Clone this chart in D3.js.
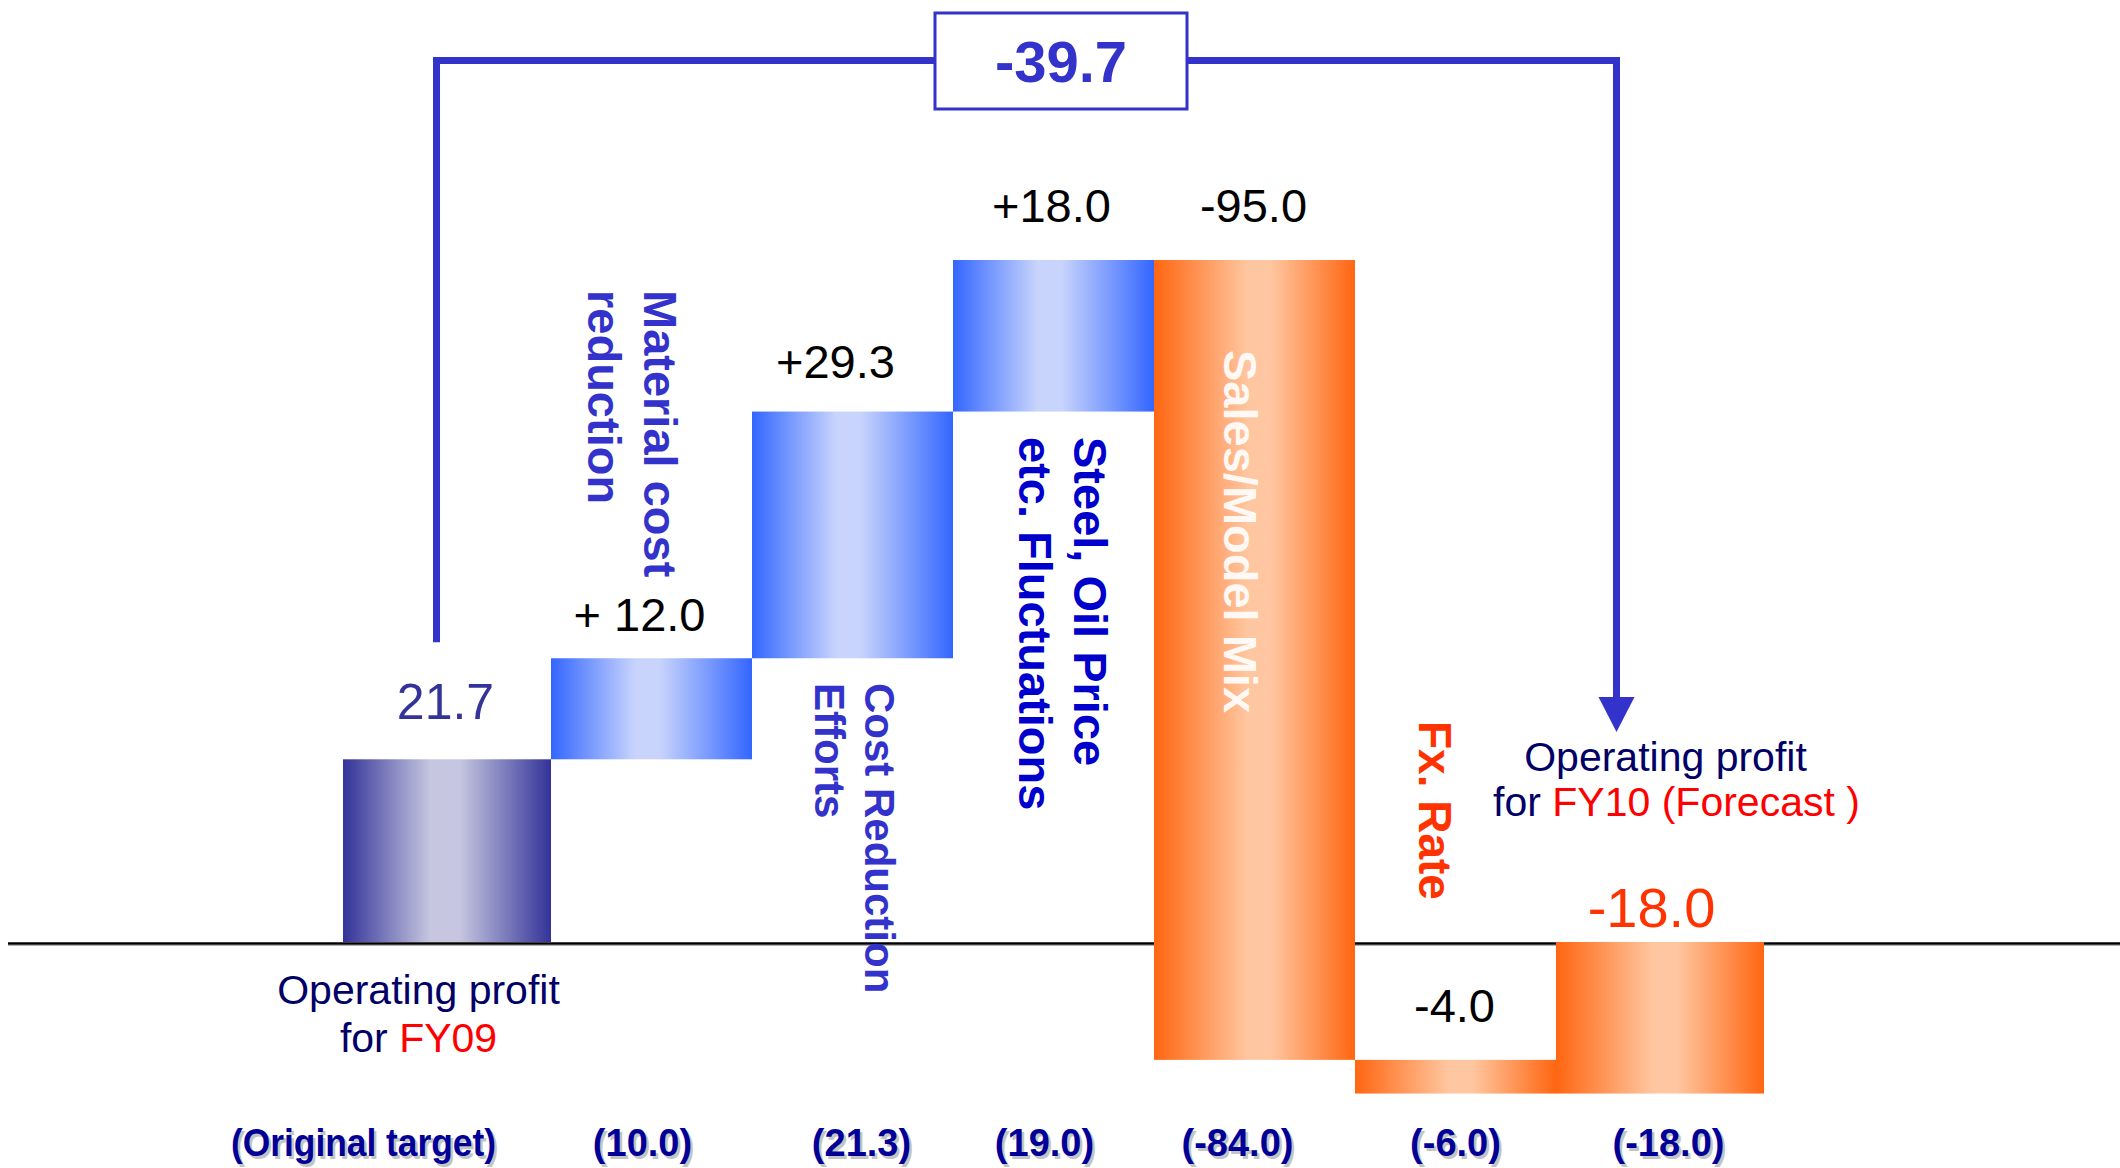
<!DOCTYPE html>
<html>
<head>
<meta charset="utf-8">
<script src="https://cdn.jsdelivr.net/npm/d3@7"></script>
<style>
  html, body { margin: 0; padding: 0; background: #ffffff; }
  svg { display: block; }
  text { font-family: "Liberation Sans", Arial, Helvetica, sans-serif; }
</style>
</head>
<body>
<svg id="chart" width="2120" height="1168"></svg>
<script>
// ---- data ---------------------------------------------------------------
const steps = ["FY09", "Material", "CostReduction", "SteelOil", "SalesMix", "FxRate", "FY10"];
const stepKinds = ["start", "gain", "gain", "gain", "loss", "loss", "end"];
const stepValues = [21.7, 12.0, 29.3, 18.0, -95.0, -4.0, -18.0];
const valueLabels = ["21.7", "+ 12.0", "+29.3", "+18.0", "-95.0", "-4.0", "-18.0"];
const targetLabels = ["(Original target)", "(10.0)", "(21.3)", "(19.0)", "(-84.0)", "(-6.0)", "(-18.0)"];
const factorNames = [
  null,
  ["Material cost", "reduction"],
  ["Cost Reduction", "Efforts"],
  ["Steel, Oil Price", "etc. Fluctuations"],
  ["Sales/Model Mix"],
  ["Fx. Rate"],
  null
];
const totalChange = "-39.7";

// ---- running totals -----------------------------------------------------
let running = 0;
const bars = steps.map((s, i) => {
  const v = stepValues[i];
  let from, to;
  if (stepKinds[i] === "start" || stepKinds[i] === "end") { from = 0; to = v; running = v; }
  else { from = running; to = running + v; running = to; }
  return { step: s, kind: stepKinds[i], value: v, from, to, i };
});

// ---- layout -------------------------------------------------------------
const svg = d3.select("#chart");
const x = d3.scaleBand().domain(steps).range([350, 1757]).padding(0);
const y = d3.scaleLinear().domain([0, 81]).range([942, 260]);
const totalWiden = 7;

const fillFor = { start: "url(#gNavy)", gain: "url(#gBlue)", loss: "url(#gOrange)", end: "url(#gOrange)" };

// ---- gradients ----------------------------------------------------------
const defs = svg.append("defs");
function grad(id, edge, mid, a, b) {
  const g = defs.append("linearGradient").attr("id", id)
    .attr("x1", 0).attr("x2", 1).attr("y1", 0).attr("y2", 0);
  [[0, edge], [a, mid], [b, mid], [1, edge]].forEach(([o, c]) =>
    g.append("stop").attr("offset", o).attr("stop-color", c));
}
grad("gNavy", "#333399", "#c6c6e0", 0.42, 0.56);
grad("gBlue", "#3366ff", "#c8d4fc", 0.42, 0.54);
grad("gOrange", "#ff6611", "#ffc7a1", 0.47, 0.58);

// ---- zero line (drawn first so the bars sit on top of it) ---------------
svg.append("line").attr("x1", 8).attr("x2", 2120)
  .attr("y1", y(0) + 3.5).attr("y2", y(0) + 3.5)
  .attr("stroke", "#b0b0b0").attr("stroke-width", 1);
svg.append("line").attr("x1", 8).attr("x2", 2120)
  .attr("y1", y(0) + 1.5).attr("y2", y(0) + 1.5)
  .attr("stroke", "#000000").attr("stroke-width", 2.5);

// ---- bars ---------------------------------------------------------------
function barX(d) {
  let x0 = x(d.step), w = x.bandwidth();
  if (d.kind === "start") { x0 -= totalWiden; w += totalWiden; }
  if (d.kind === "end") { w += totalWiden; }
  return [x0, w];
}
svg.append("g").selectAll("rect").data(bars).join("rect")
  .attr("x", d => barX(d)[0])
  .attr("width", d => barX(d)[1])
  .attr("y", d => y(Math.max(d.from, d.to)))
  .attr("height", d => Math.abs(y(d.from) - y(d.to)))
  .attr("fill", d => fillFor[d.kind]);

// ---- value labels above each bar ---------------------------------------
const labelShift = [-5, -12, -17, -2, -1, -1, -5];
const labelGap = [40, 27, 34, 38, 38, 38, 15];
const labelStyle = (i) => i === 0 ? { size: 50, color: "#333399" }
                      : i === 6 ? { size: 56, color: "#ff3300" }
                      : { size: 47, color: "#000000" };
svg.append("g").selectAll("text").data(bars).join("text")
  .attr("x", d => x(d.step) + x.bandwidth() / 2 + labelShift[d.i])
  .attr("y", d => y(Math.max(d.from, d.to)) - labelGap[d.i])
  .attr("text-anchor", "middle")
  .attr("font-size", d => labelStyle(d.i).size)
  .attr("fill", d => labelStyle(d.i).color)
  .text(d => valueLabels[d.i]);

// ---- rotated factor names ----------------------------------------------
const factorStyle = {
  1: { x: 644, y: 290, size: 47, lh: 56, color: "#3333cc" },
  2: { x: 865, y: 683, size: 42, lh: 50, color: "#3333cc" },
  3: { x: 1074, y: 437, size: 47, lh: 55, color: "#0000cc" },
  4: { x: 1224, y: 350, size: 47, lh: 0, color: "#ffffff" },
  5: { x: 1419, y: 721, size: 46, lh: 0, color: "#ff3300" }
};
factorNames.forEach((lines, i) => {
  if (!lines) return;
  const st = factorStyle[i];
  const t = svg.append("text")
    .attr("transform", `translate(${st.x},${st.y}) rotate(90)`)
    .attr("font-size", st.size).attr("font-weight", "bold")
    .attr("fill", st.color)
    .attr("fill-opacity", i === 4 ? 0.92 : 1);
  lines.forEach((ln, k) => t.append("tspan").attr("x", 0).attr("dy", k === 0 ? 0 : st.lh).text(ln));
});

// ---- start / end captions ----------------------------------------------
function caption(cx, y1, y2, second) {
  const g = svg.append("g").attr("font-size", 41).attr("text-anchor", "middle");
  g.append("text").attr("x", cx).attr("y", y1).attr("fill", "#000066").text("Operating profit");
  const t = g.append("text").attr("x", cx + second.dx).attr("y", y2).attr("fill", "#000066");
  t.append("tspan").text("for ");
  t.append("tspan").attr("fill", "#ff0000").text(second.red);
}
const c0 = x(steps[0]) + x.bandwidth() / 2;
const c6 = x(steps[6]) + x.bandwidth() / 2;
caption(c0 - 32, 1004, 1052, { dx: 0, red: "FY09" });
caption(c6 + 9, 771, 816, { dx: 11, red: "FY10 (Forecast )" });

// ---- original target row -------------------------------------------------
const targetShift = [-87, -9, 9, -9, -17, 0, 12];
const targetRow = svg.append("g").attr("font-size", 38).attr("font-weight", "bold").attr("text-anchor", "middle");
[["#c4c4c4", 2.5], ["#000099", 0]].forEach(([col, off]) => {
  targetRow.append("g").selectAll("text").data(bars).join("text")
    .attr("x", d => x(d.step) + x.bandwidth() / 2 + targetShift[d.i] + off)
    .attr("y", 1156 + off)
    .attr("fill", col)
    .each(function (d) {
      if (d.i === 0) d3.select(this).attr("textLength", 265).attr("lengthAdjust", "spacingAndGlyphs");
    })
    .text(d => targetLabels[d.i]);
});

// ---- overall change bracket --------------------------------------------
const bracketColor = "#3333cc";
const leftX = c0 - 14, rightX = c6 - 40, topY = 60.5;
const leftBottom = y(stepValues[0]) - 117;
const arrowTip = 732, arrowHead = 35, arrowHalf = 18;
svg.append("path")
  .attr("d", `M${leftX},${leftBottom} V${topY - 3.5} M${leftX - 3.5},${topY} H${rightX + 3.5} M${rightX},${topY - 3.5} V${arrowTip - arrowHead + 1}`)
  .attr("fill", "none").attr("stroke", bracketColor).attr("stroke-width", 7);
svg.append("path")
  .attr("d", `M${rightX - arrowHalf},${arrowTip - arrowHead} L${rightX + arrowHalf},${arrowTip - arrowHead} L${rightX},${arrowTip} Z`)
  .attr("fill", bracketColor);

const boxW = 252, boxH = 96, boxCx = 1061;
svg.append("rect")
  .attr("x", boxCx - boxW / 2).attr("y", topY - boxH / 2 + 0.5)
  .attr("width", boxW).attr("height", boxH)
  .attr("fill", "#ffffff").attr("stroke", bracketColor).attr("stroke-width", 3);
svg.append("text")
  .attr("x", boxCx).attr("y", topY + 21)
  .attr("text-anchor", "middle")
  .attr("font-size", 58).attr("font-weight", "bold")
  .attr("fill", bracketColor)
  .text(totalChange);
</script>
</body>
</html>
